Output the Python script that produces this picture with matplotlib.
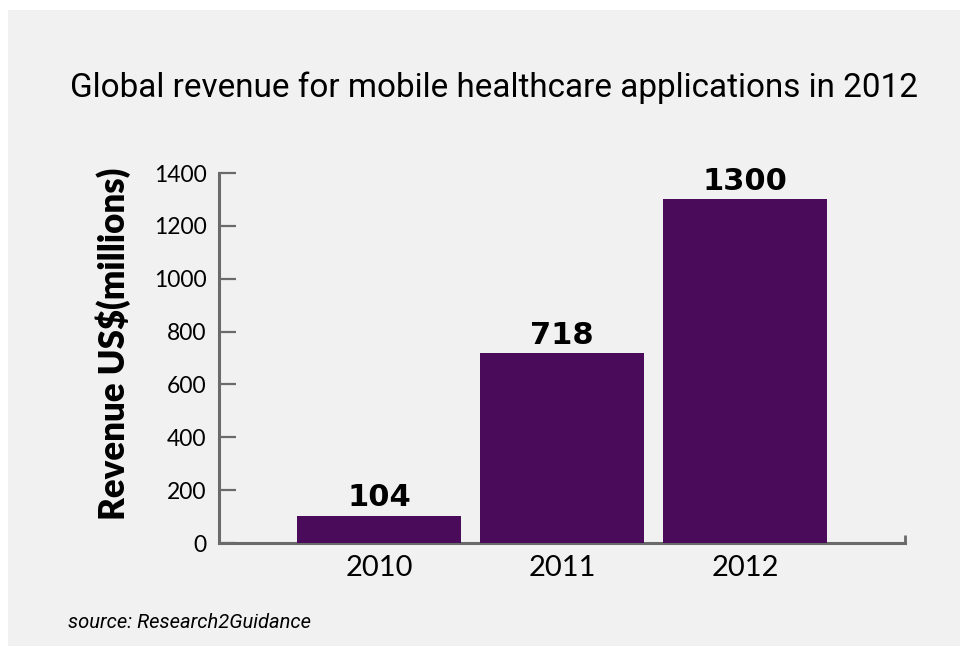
import matplotlib
matplotlib.use("Agg")
import matplotlib.pyplot as plt
from matplotlib.patches import Rectangle

years = ["2010", "2011", "2012"]
revenue = [104, 718, 1300]
yticks = [0, 200, 400, 600, 800, 1000, 1200, 1400]

title = "Global revenue for mobile healthcare applications in 2012"
ylabel = "Revenue US$(millions)"
source = "source: Research2Guidance"

bar_color = "#4a0b5a"
bg = "#f1f1f1"
axis_gray = "#6a6a6a"
body_font = ["Lato", "DejaVu Sans"]
narrow_font = ["Roboto", "DejaVu Sans"]

fig = plt.figure(figsize=(9.6, 6.47), dpi=100, facecolor="white")
W, H = 960, 647

# grey panel behind everything
fig.patches.append(Rectangle((8 / W, 1 / H), 1 - 8 / W, (H - 11) / H,
                             transform=fig.transFigure, facecolor=bg,
                             edgecolor="none", zorder=-5))

ax = fig.add_axes([219 / W, 1 - 543 / H, (905 - 219) / W, (543 - 173) / H])
ax.set_facecolor("none")
ax.set_zorder(2)

x = range(len(years))
ax.bar(x, revenue, width=0.896, color=bar_color, zorder=3)
for xi, v in zip(x, revenue):
    ax.text(xi, v + 14, str(v), ha="center", va="bottom",
            fontsize=22, fontweight="bold", family="DejaVu Sans")

ax.set_xlim(-0.874, 2.874)
ax.set_ylim(0, 1400)
ax.set_yticks(yticks)
ax.set_xticks(list(x))
ax.set_xticklabels(years, fontsize=21, family=body_font)
ax.set_yticklabels([str(t) for t in yticks], fontsize=16.5, family=body_font)

ax.tick_params(axis="y", direction="in", length=12, width=1.6,
               color=axis_gray, pad=9)
ax.tick_params(axis="x", length=0, pad=9)
# small end mark at the right of the baseline
ax.set_xticks([2.874], minor=True)
ax.tick_params(axis="x", which="minor", direction="in", length=6,
               width=2, color=axis_gray)

for s in ["top", "right"]:
    ax.spines[s].set_visible(False)
for s in ["left", "bottom"]:
    ax.spines[s].set_color(axis_gray)
    ax.spines[s].set_linewidth(2.2)

fig.text(113 / W, 1 - 344 / H, ylabel, rotation=90, ha="center", va="center",
         fontsize=25, fontweight="heavy", family=body_font)

t = fig.text(494 / W, 1 - 88 / H, title, ha="center", va="center",
             fontsize=27, family=narrow_font)
# fit the heading to its width
fig.canvas.draw()
w = t.get_window_extent().width
t.set_fontsize(27 * 848 / w)

fig.text(68 / W, 1 - 622 / H, source, ha="left", va="center",
         fontsize=14.5, style="italic", family=narrow_font)

fig.savefig("out.png", dpi=100, facecolor=fig.get_facecolor())
